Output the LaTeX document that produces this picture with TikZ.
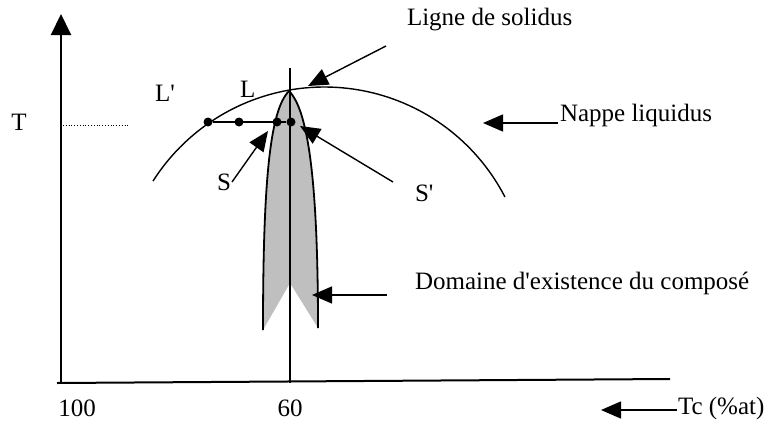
\documentclass[tikz,border=0pt]{standalone}
\usepackage{fontspec}
\setmainfont{Liberation Serif}[Ligatures=TeXOff]
\usetikzlibrary{arrows.meta}
\begin{document}
\begin{tikzpicture}[x=1pt,y=-1pt,
  lbl/.style={inner sep=0pt,outer sep=0pt,font=\fontsize{25}{30}\selectfont},
  axis/.style={line width=2pt},
  ptr/.style={line width=1.4pt,-{Triangle[length=20pt,width=17pt]}},
  thin/.style={line width=1.4pt},
  dotm/.style={circle,fill=black,inner sep=0pt,minimum size=9pt}]
\useasboundingbox (0,0) rectangle (776,423);
% axes
\coordinate (O) at (61,383);
\coordinate (Ytop) at (61,14);
\coordinate (Xend) at (670,379);
\coordinate (Xstart) at (57,383);
\draw[axis,-{Triangle[length=21pt,width=20pt]}] (O) -- (Ytop);
\draw[axis] (Xstart) -- (Xend);
% T level
\coordinate (Tl) at (63,125);
\coordinate (Tr) at (130,125);
\draw[line width=0.8pt,dotted] (Tl) -- (Tr);
% lens (compound domain)
\fill[black!25] (289,91) .. controls (270,110) and (263,180) .. (263,330)
   -- (290,283) -- (318,328) .. controls (318,180) and (308,110) .. (289,91) -- cycle;
\draw[line width=1.8pt] (289,91) .. controls (270,110) and (263,180) .. (263,330);
\draw[line width=1.8pt] (289,91) .. controls (308,110) and (318,180) .. (318,328);
% vertical composition line
\coordinate (Vtop) at (290,68);
\coordinate (Vbot) at (290,383);
\draw[thin] (Vtop) -- (Vbot);
% liquidus
\draw[thin] plot[domain=27.3:147.5,samples=80] ({324.4+203.2*cos(\x)},{290.2-203.2*sin(\x)});
% tie line and points
\node[dotm] (p1) at (208,122) {};
\node[dotm] (p2) at (239,122) {};
\node[dotm] (p3) at (277,122) {};
\node[dotm] (p4) at (291,122) {};
\draw[thin] (p1) -- (p4);
% labels
\node[lbl,anchor=base] (T) at (19,130) {T};
\node[lbl,anchor=base west] (Lp) at (155,101) {L'};
\node[lbl,anchor=base west] (L) at (240,97) {L};
\node[lbl,anchor=base west] (S) at (217,190) {S};
\node[lbl,anchor=base west] (Sp) at (415,201) {S'};
\node[lbl,anchor=base west] (sol) at (407,25) {Ligne de solidus};
\node[lbl,anchor=base west] (nap) at (560,121) {Nappe liquidus};
\node[lbl,anchor=base west] (dom) at (415,289) {Domaine d'existence du composé};
\node[lbl,anchor=base west] (tc) at (678,414) {Tc (\%at)};
\node[lbl,anchor=base] (c100) at (77,416) {100};
\node[lbl,anchor=base] (c60) at (290,416) {60};
% pointers
\coordinate (solS) at (386,46);  \coordinate (solT) at (308,86);
\coordinate (napS) at (558,123); \coordinate (napT) at (483,123);
\coordinate (domS) at (387,295); \coordinate (domT) at (312,295);
\coordinate (tcS) at (677,410);  \coordinate (tcT) at (601,410);
\coordinate (sS) at (232,182);   \coordinate (sT) at (268,131);
\coordinate (spS) at (393,182);  \coordinate (spT) at (300,126);
\draw[ptr] (solS) -- (solT);
\draw[ptr] (napS) -- (napT);
\draw[ptr] (domS) -- (domT);
\draw[ptr] (tcS) -- (tcT);
\draw[ptr] (sS) -- (sT);
\draw[ptr] (spS) -- (spT);
\end{tikzpicture}
\end{document}
